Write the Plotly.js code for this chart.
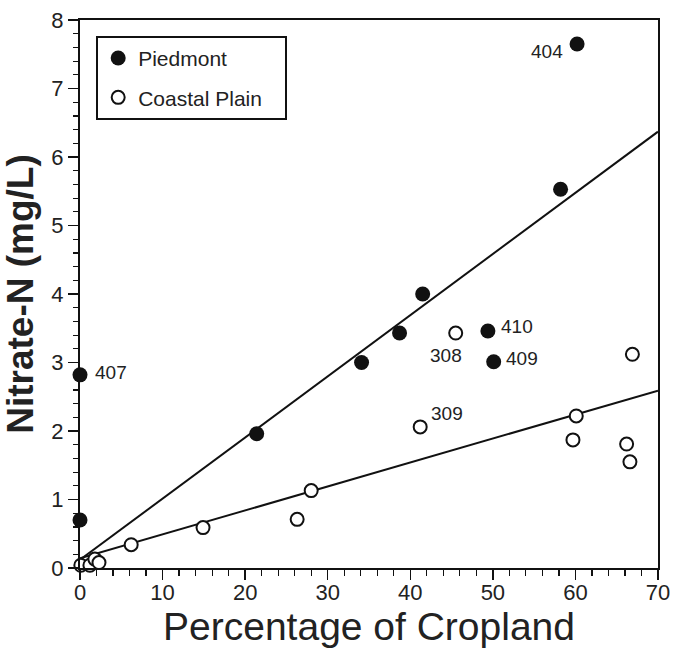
<!DOCTYPE html>
<html>
<head>
<meta charset="utf-8">
<script src="https://cdn.plot.ly/plotly-3.0.1.min.js"></script>
<style>html,body{margin:0;padding:0;background:#fff;}#chart{width:673px;height:654px;}</style>
</head>
<body>
<div id="chart"></div>
<script>
// Piedmont (filled circles)
const piedmontX = [60.2, 58.2, 41.5, 38.7, 34.1, 49.4, 50.1, 21.4, 0.0, 0.0];
const piedmontY = [7.65, 5.53, 4.00, 3.43, 3.00, 3.46, 3.01, 1.96, 2.82, 0.70];
const piedmontLabels = ["404", "", "", "", "", "410", "409", "", "407", ""];

// Coastal Plain (open circles)
const coastalX = [45.5, 66.9, 41.2, 60.1, 59.7, 66.2, 66.6, 28.0, 26.3, 14.9, 6.2, -0.3, 0.1, 1.2, 1.8, 2.3];
const coastalY = [3.43, 3.12, 2.06, 2.22, 1.87, 1.81, 1.55, 1.13, 0.71, 0.59, 0.34, 0.10, 0.04, 0.04, 0.13, 0.08];
const coastalLabels = ["308", "", "309", "", "", "", "", "", "", "", "", "", "", "", "", ""];

// Regression lines
const fitX = [0, 70];
const piedmontFit = [0.12, 6.37];
const coastalFit = [0.14, 2.59];

const xTicks = [0, 10, 20, 30, 40, 50, 60, 70];
const yTicks = [0, 1, 2, 3, 4, 5, 6, 7, 8];

const FONT = "Liberation Sans, Arial, Helvetica, sans-serif";

// label placement offsets (px) relative to the point
const labelOffsets = {
  "404": {xanchor: "right", xshift: -12, yshift: -8},
  "407": {xanchor: "left", xshift: 13, yshift: 2},
  "410": {xanchor: "left", xshift: 11, yshift: 4},
  "409": {xanchor: "left", xshift: 10, yshift: 3},
  "308": {xanchor: "right", xshift: 8, yshift: -22},
  "309": {xanchor: "left", xshift: 9, yshift: 13}
};

const annotations = [];
function addLabels(xs, ys, labels) {
  labels.forEach((lab, i) => {
    if (!lab) return;
    const o = labelOffsets[lab];
    annotations.push({
      x: xs[i], y: ys[i], xref: "x", yref: "y", text: lab, showarrow: false,
      xanchor: o.xanchor, yanchor: "middle", xshift: o.xshift, yshift: o.yshift,
      font: {family: FONT, size: 19, color: "#222"}
    });
  });
}
addLabels(piedmontX, piedmontY, piedmontLabels);
addLabels(coastalX, coastalY, coastalLabels);

const PAD = "\u00a0\u00a0\u00a0";

const traces = [
  {x: fitX, y: piedmontFit, mode: "lines", line: {color: "#111", width: 2}, showlegend: false, hoverinfo: "skip", cliponaxis: true},
  {x: fitX, y: coastalFit, mode: "lines", line: {color: "#111", width: 2}, showlegend: false, hoverinfo: "skip", cliponaxis: true},
  {x: piedmontX, y: piedmontY, mode: "markers", name: "Piedmont", legendgroup: "p",
   marker: {symbol: "circle", size: 15, color: "#111", line: {color: "#111", width: 0}}, cliponaxis: false},
  {x: coastalX, y: coastalY, mode: "markers", name: "Coastal Plain" + PAD, legendgroup: "c",
   marker: {symbol: "circle", size: 13, color: "#fff", line: {color: "#111", width: 2}}, cliponaxis: false}
];

const layout = {
  width: 673, height: 654,
  margin: {l: 80, r: 15, t: 20, b: 86, pad: 0},
  paper_bgcolor: "#fff", plot_bgcolor: "#fff",
  font: {family: FONT, color: "#222"},
  showlegend: true,
  legend: {
    x: 0.028, y: 0.971, xanchor: "left", yanchor: "top",
    bordercolor: "#111", borderwidth: 2, bgcolor: "#fff",
    font: {family: FONT, size: 21, color: "#222"},
    traceorder: "grouped", tracegroupgap: 9
  },
  xaxis: {
    range: [0, 70], tickvals: xTicks, ticktext: xTicks.map(String),
    showgrid: false, zeroline: false,
    showline: true, linecolor: "#111", linewidth: 2, mirror: true,
    ticks: "outside", ticklen: 10, tickwidth: 1.5, tickcolor: "#111",
    ticklabelstandoff: -6,
    minor: {dtick: 2, ticks: "outside", ticklen: 6, tickwidth: 1.2, tickcolor: "#111", showgrid: false},
    tickfont: {family: FONT, size: 22, color: "#222"},
    title: {text: "Percentage of Cropland", font: {family: FONT, size: 39, color: "#222"}, standoff: 8}
  },
  yaxis: {
    range: [0, 8], tickvals: yTicks, ticktext: yTicks.map(String),
    showgrid: false, zeroline: false,
    showline: true, linecolor: "#111", linewidth: 2, mirror: true,
    ticks: "outside", ticklen: 10, tickwidth: 1.5, tickcolor: "#111",
    minor: {dtick: 0.2, ticks: "outside", ticklen: 5, tickwidth: 1.2, tickcolor: "#111", showgrid: false},
    tickfont: {family: FONT, size: 22, color: "#222"},
    title: {text: "<b>Nitrate-N (mg/L)</b>", font: {family: FONT, size: 37, color: "#222"}, standoff: 10}
  },
  annotations: annotations
};

Plotly.newPlot("chart", traces, layout, {displayModeBar: false, staticPlot: true});
</script>
</body>
</html>
